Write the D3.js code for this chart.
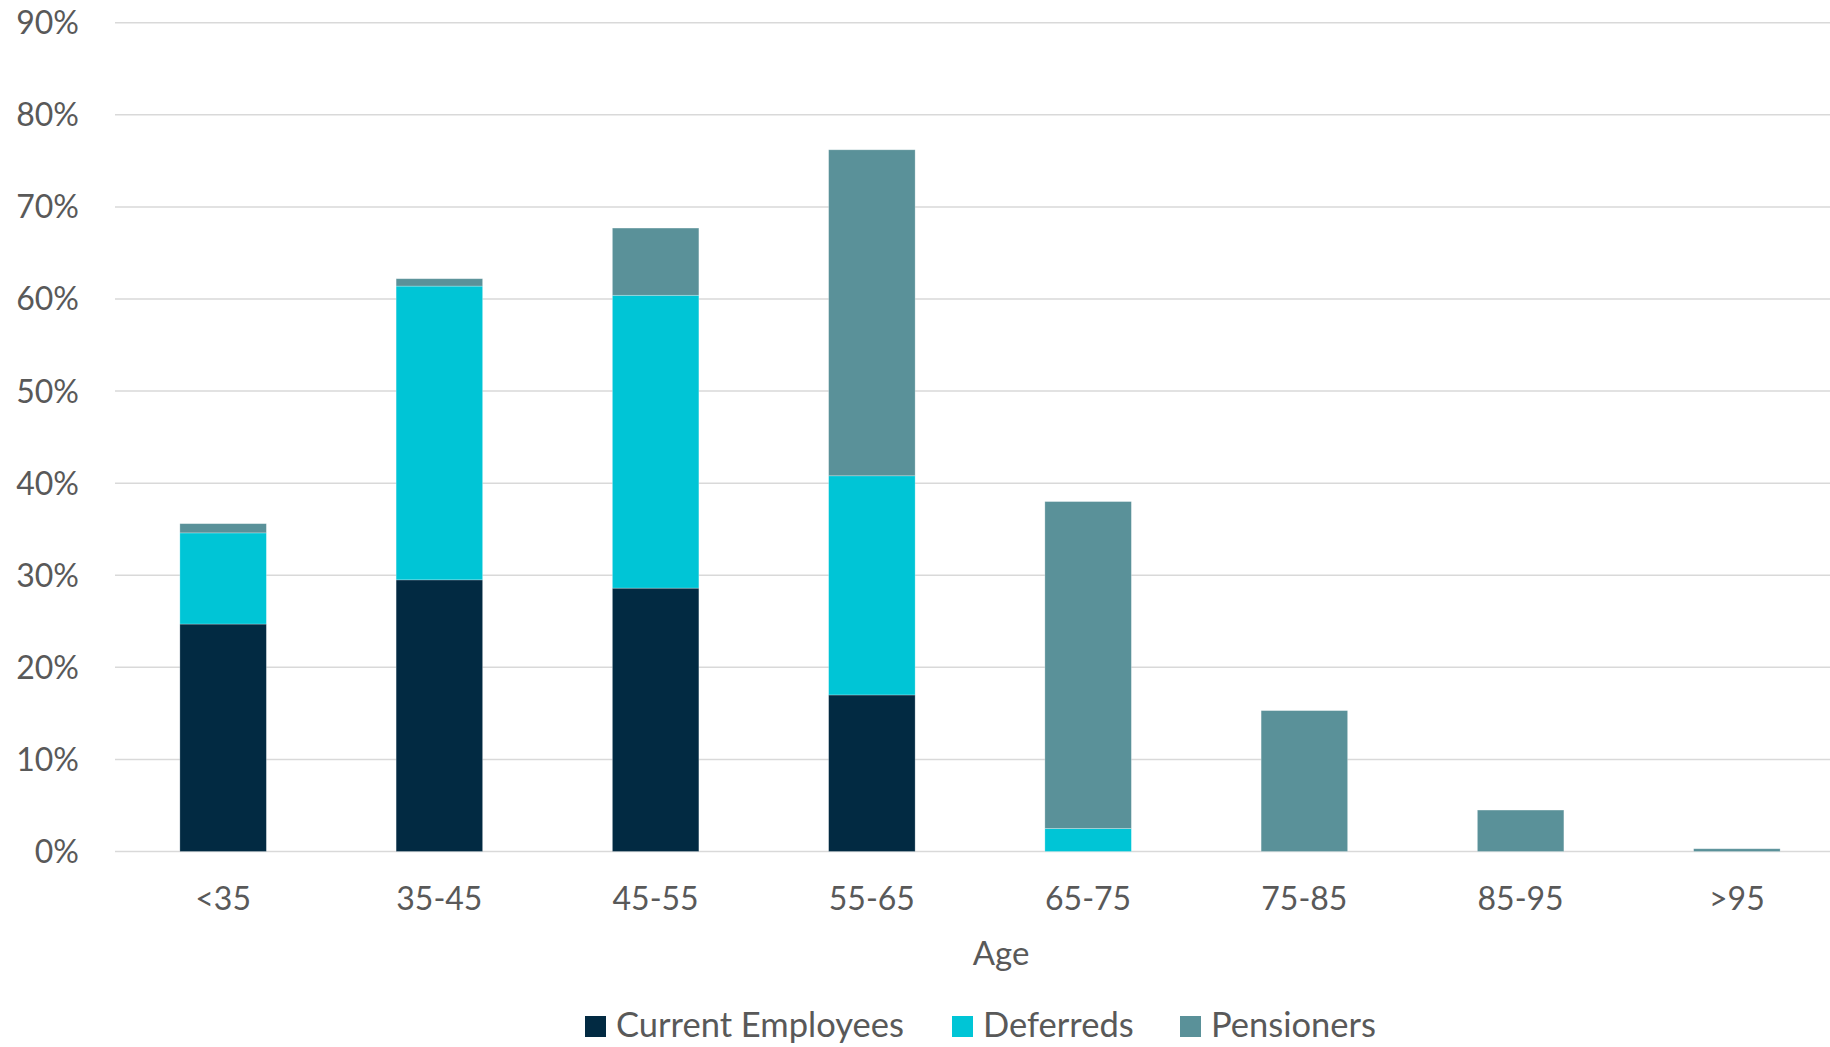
<!DOCTYPE html>
<html>
<head>
<meta charset="utf-8">
<script src="https://cdn.jsdelivr.net/npm/d3@7"></script>
<style>
  html, body { margin: 0; padding: 0; background: #fff; overflow: hidden; }
  svg { display: block; }
  text { font-family: Lato, "Open Sans", sans-serif; fill: #595959; }
</style>
</head>
<body>
<svg id="chart" width="1830" height="1047"></svg>
<script>
// Age bands on the x axis
const ageBands = ["<35", "35-45", "45-55", "55-65", "65-75", "75-85", "85-95", ">95"];

// Share of each membership group per age band (fractions)
const currentEmployees = [0.247, 0.295, 0.286, 0.170, 0.000, 0.000, 0.000, 0.000];
const deferreds        = [0.099, 0.319, 0.318, 0.238, 0.025, 0.000, 0.000, 0.000];
const pensioners       = [0.010, 0.008, 0.073, 0.354, 0.355, 0.153, 0.045, 0.003];

const seriesNames  = ["Current Employees", "Deferreds", "Pensioners"];
const seriesColors = ["#022A42", "#00C5D6", "#5A9199"];

const yTicks = [0, 0.1, 0.2, 0.3, 0.4, 0.5, 0.6, 0.7, 0.8, 0.9];

// Rows for the stack layout
const rows = ageBands.map((band, i) => ({
  band,
  "Current Employees": currentEmployees[i],
  "Deferreds": deferreds[i],
  "Pensioners": pensioners[i]
}));

const svg = d3.select("#chart");

const x = d3.scaleBand()
  .domain(ageBands)
  .range([115, 1845])
  .paddingInner(0.6)
  .paddingOuter(0.3);

const y = d3.scaleLinear()
  .domain([0, 0.9])
  .range([851.5, 22.7]);

const color = d3.scaleOrdinal().domain(seriesNames).range(seriesColors);

// Horizontal gridlines
svg.append("g")
  .selectAll("line")
  .data(yTicks)
  .join("line")
  .attr("x1", 115)
  .attr("x2", 1845)
  .attr("y1", d => y(d))
  .attr("y2", d => y(d))
  .attr("stroke", "#D9D9D9")
  .attr("stroke-width", 1.5);

// Y tick labels
svg.append("g")
  .selectAll("text")
  .data(yTicks)
  .join("text")
  .attr("x", 79)
  .attr("y", d => y(d) + 11.5)
  .attr("text-anchor", "end")
  .attr("font-size", 32)
  .text(d => d3.format(".0%")(d));

// Stacked bars
const stacked = d3.stack().keys(seriesNames)(rows);

svg.append("g")
  .selectAll("g")
  .data(stacked)
  .join("g")
  .attr("fill", d => color(d.key))
  .selectAll("rect")
  .data(d => d)
  .join("rect")
  .attr("x", d => x(d.data.band))
  .attr("width", x.bandwidth())
  .attr("y", d => y(d[1]))
  .attr("height", d => Math.max(0, y(d[0]) - y(d[1])))
  .attr("stroke", "rgba(255,255,255,0.35)")
  .attr("stroke-width", d => (y(d[0]) - y(d[1])) > 0.5 ? 0.75 : 0);

// Category labels
svg.append("g")
  .selectAll("text")
  .data(ageBands)
  .join("text")
  .attr("x", d => x(d) + x.bandwidth() / 2)
  .attr("y", 910)
  .attr("text-anchor", "middle")
  .attr("font-size", 32)
  .text(d => d);

// Axis title
svg.append("text")
  .attr("x", 1001)
  .attr("y", 965)
  .attr("text-anchor", "middle")
  .attr("font-size", 33)
  .text("Age");

// Legend
const legendX = [585, 952, 1180];
const legend = svg.append("g")
  .selectAll("g")
  .data(seriesNames)
  .join("g")
  .attr("transform", (d, i) => `translate(${legendX[i]},1016)`);

legend.append("rect")
  .attr("width", 21)
  .attr("height", 21)
  .attr("fill", d => color(d));

legend.append("text")
  .attr("x", 31)
  .attr("y", 20.5)
  .attr("font-size", 34.5)
  .text(d => d);
</script>
</body>
</html>
